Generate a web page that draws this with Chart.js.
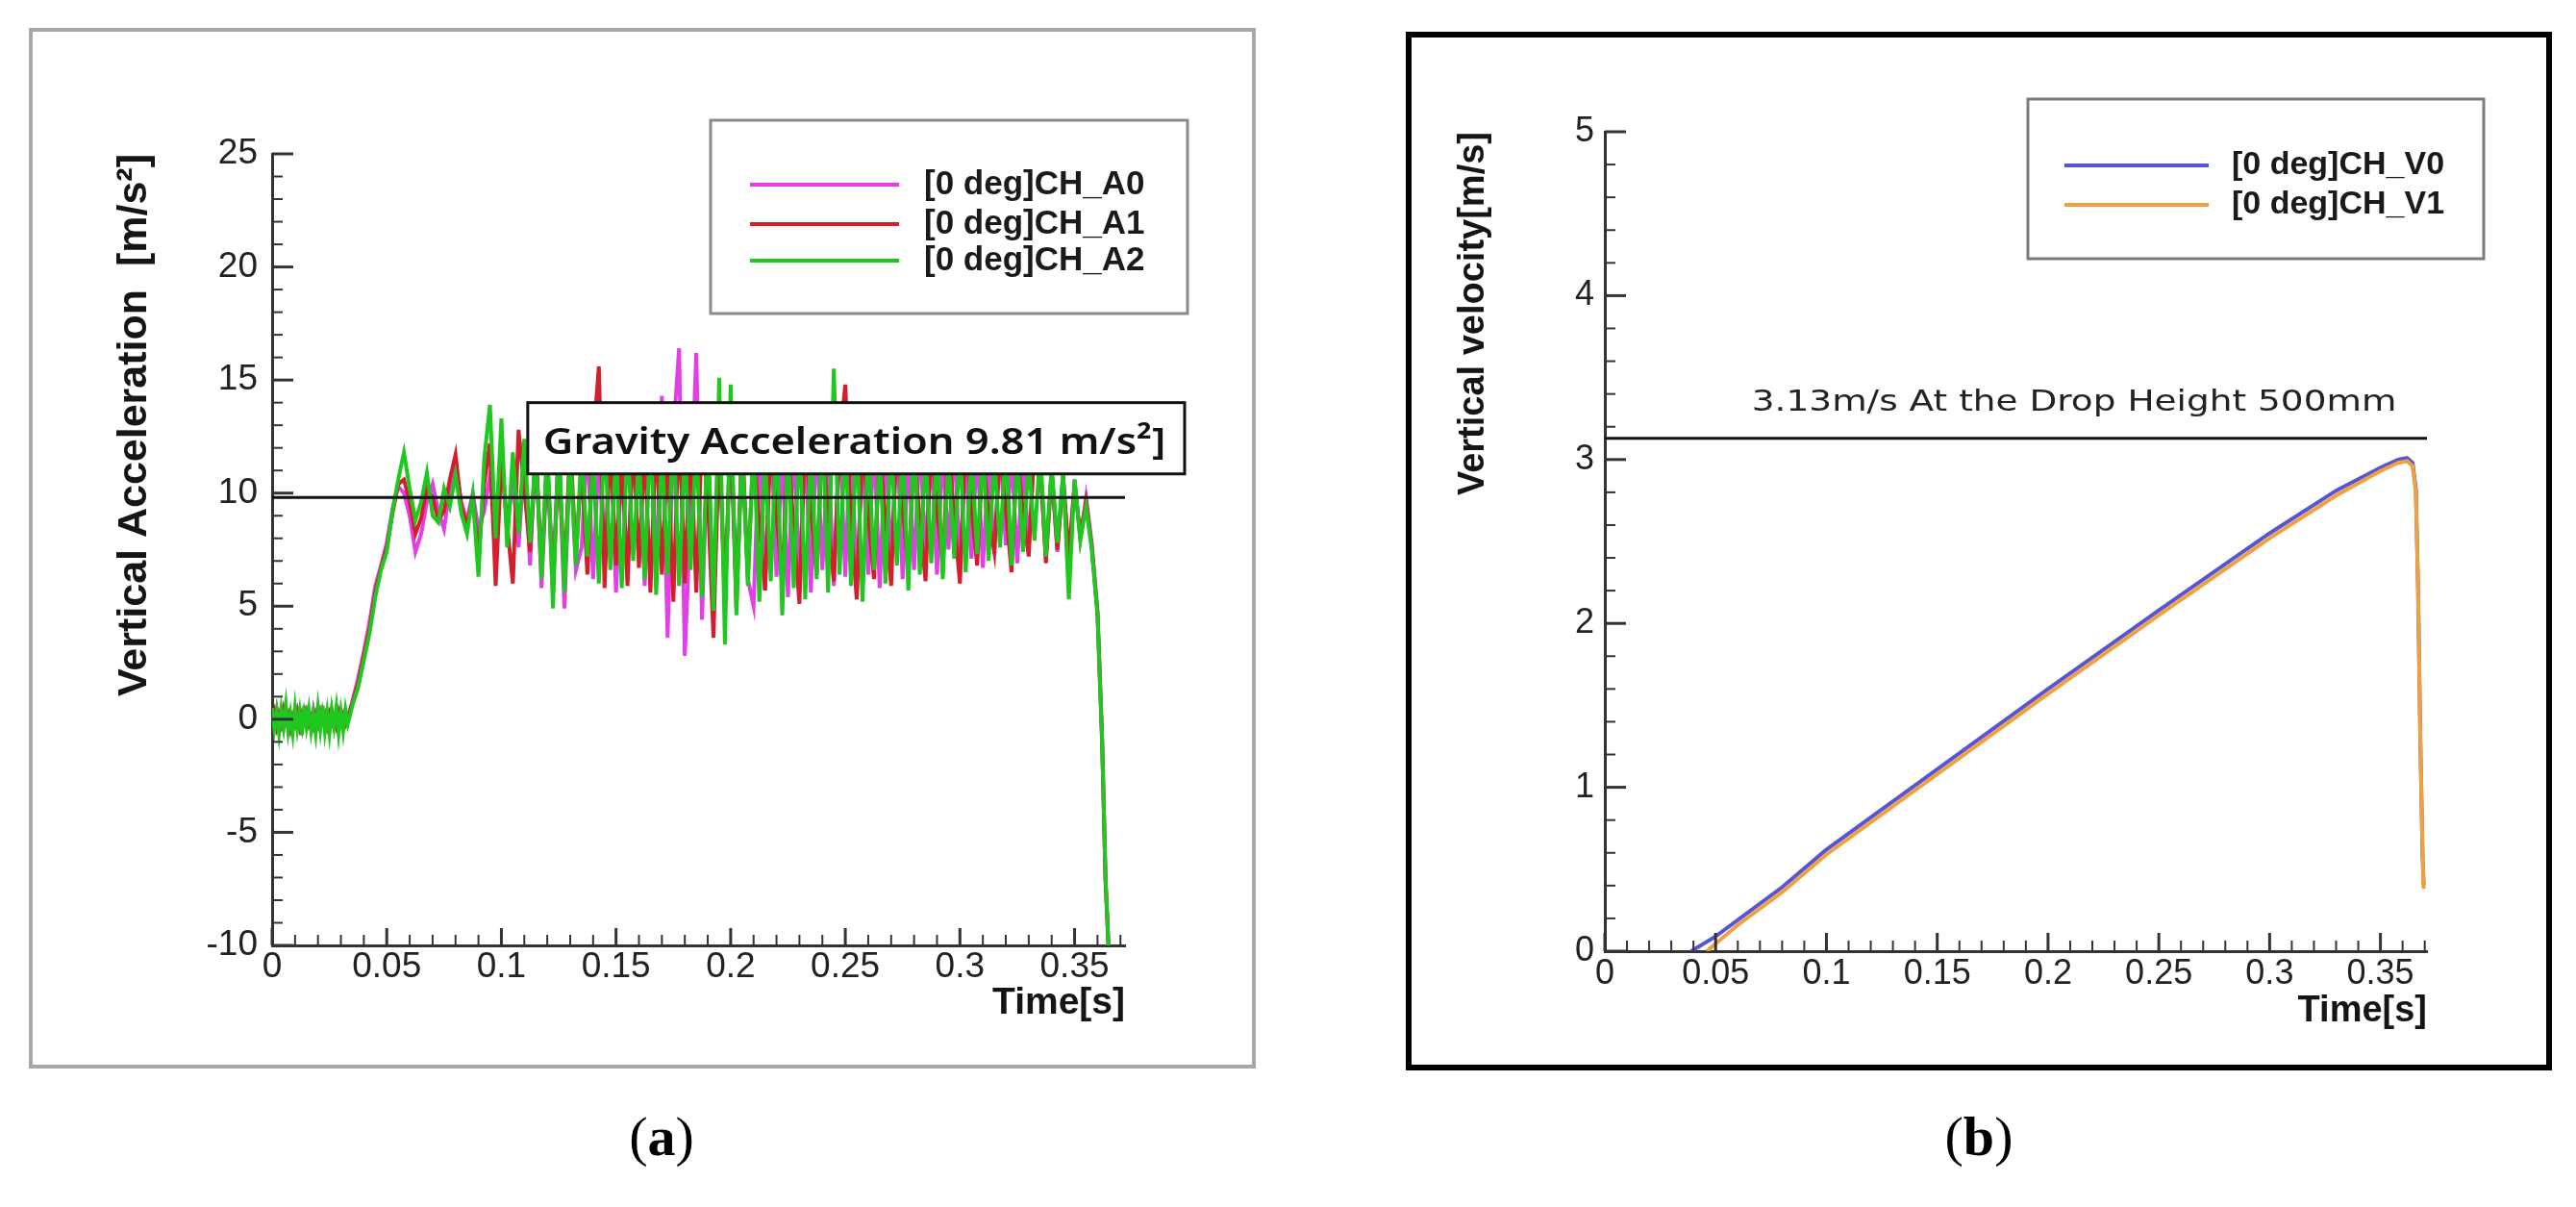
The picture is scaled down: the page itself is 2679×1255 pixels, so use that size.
<!DOCTYPE html>
<html><head><meta charset="utf-8">
<script src="https://cdn.jsdelivr.net/npm/chart.js@4/dist/chart.umd.min.js"></script>
<style>
html,body{margin:0;padding:0;background:#fff;}
body{width:2679px;height:1255px;position:relative;overflow:hidden;}
#frameA{position:absolute;left:30px;top:29px;width:1276px;height:1082px;box-sizing:border-box;border:4px solid #a8a8a8;background:#fff;}
#frameB{position:absolute;left:1462px;top:33px;width:1192px;height:1080px;box-sizing:border-box;border:6px solid #000;background:#fff;}
#cA{position:absolute;left:0;top:0;}
#cB{position:absolute;left:1440px;top:0;}
.cap{position:absolute;top:1153px;width:200px;text-align:center;font-family:"Liberation Serif","DejaVu Serif",serif;font-size:58px;line-height:58px;color:#000;}
</style></head>
<body>
<div id="frameA"></div>
<div id="frameB"></div>
<canvas id="cA" width="1400" height="1130"></canvas>
<canvas id="cB" width="1239" height="1130"></canvas>
<div class="cap" style="left:588px">(<b>a</b>)</div>
<div class="cap" style="left:1958px">(<b>b</b>)</div>
<script>
// ---------- Panel (a): vertical acceleration ----------
const timeA = [
 0,0.001,0.002,0.003,0.004,0.005,0.006,0.007,0.008,0.009,0.010,0.011,0.012,0.013,0.014,0.015,0.016,0.017,0.018,0.019,0.020,0.021,0.022,0.023,0.024,0.025,0.026,0.027,0.028,0.029,0.030,0.031,0.032,0.033,
 0.035,0.0375,0.040,0.0425,0.045,0.0475,0.050,0.0525,0.055,0.0575,
 0.060,0.0625,0.065,0.0675,0.070,0.0725,0.075,0.0775,0.080,0.0825,
 0.085,0.0875,0.090,0.0925,0.095,0.0975,0.100,0.1025,0.105,0.1075,
 0.110,0.1125,0.115,0.1175,0.120,0.1225,0.125,0.1275,0.130,0.1325,
 0.135,0.1375,0.140,0.1425,0.145,0.1475,0.150,0.1525,0.155,0.1575,
 0.160,0.1625,0.165,0.1675,0.170,0.1725,0.175,0.1775,0.180,0.1825,
 0.185,0.1875,0.190,0.1925,0.195,0.1975,0.200,0.2025,0.205,0.2075,
 0.210,0.2125,0.215,0.2175,0.220,0.2225,0.225,0.2275,0.230,0.2325,
 0.235,0.2375,0.240,0.2425,0.245,0.2475,0.250,0.2525,0.255,0.2575,
 0.260,0.2625,0.265,0.2675,0.270,0.2725,0.275,0.2775,0.280,0.2825,
 0.285,0.2875,0.290,0.2925,0.295,0.2975,0.300,0.3025,0.305,0.3075,
 0.310,0.3125,0.315,0.3175,0.320,0.3225,0.325,0.3275,0.330,0.3325,
 0.335,0.3375,0.340,0.3425,0.345,0.3475,0.350,0.3525,0.355,
 0.3575,0.360,0.362,0.3635,0.365
];
const chA0 = [
 0.2,-0.3,0.4,-0.2,0.1,-0.4,0.3,-0.1,0.2,-0.3, 0.4,-0.2,0.1,-0.4,0.3,-0.2,0.2,-0.3,0.4,-0.1, 0.2,-0.4,0.3,-0.2,0.1,-0.3,0.4,-0.2,0.2,-0.3, 0.3,-0.2,0.1,0.0,
 0.8,1.8,3.0,4.3,5.9,6.8,7.8,9.3,10.3,10.0,
 9.0,7.4,8.2,9.6,10.4,9.2,8.4,10.2,11.2,9.6,
 8.8,10.0,8.4,9.2,10.8,7.8,12.0,8.4,10.6,7.6,
 11.6,6.8,12.2,5.8,11.4,6.4,12.0,4.9,11.8,6.6,
 7.6,12.4,6.2,11.8,6.9,12.6,5.6,11.4,6.4,12.3,
 12.9,5.9,13.4,6.3,14.3,3.6,12.6,16.4,2.8,9.0,
 16.2,4.4,12.4,5.2,12.8,4.9,13.1,5.6,12.2,6.2,
 5.0,12.4,5.7,12.9,6.3,11.8,5.4,12.6,6.0,12.3,
 5.6,12.7,6.6,12.0,5.9,12.9,6.3,13.2,5.5,12.1,
 6.4,12.5,5.8,12.2,6.9,12.8,6.2,11.7,6.6,12.4,
 7.2,12.1,6.4,11.9,7.5,12.3,6.8,11.6,7.1,12.0,
 6.7,11.5,7.3,12.1,7.7,11.8,6.9,11.4,7.6,11.9,
 11.2,7.1,10.9,7.4,10.8,6.9,10.6,8.0,9.8,
 7.8,4.8,-0.8,-7.2,-10.5
];
const chA1 = [
 -0.1,0.3,-0.3,0.2,-0.2,0.4,-0.1,0.2,-0.4,0.1, -0.2,0.3,-0.3,0.2,-0.1,0.3,-0.2,0.1,-0.3,0.2, -0.2,0.3,-0.1,0.2,-0.3,0.2,-0.2,0.1,-0.3,0.3, -0.1,0.2,-0.2,0.1,
 0.7,1.6,2.8,4.0,5.6,6.7,7.6,9.1,10.4,10.6,
 9.6,8.2,8.9,10.2,9.8,8.8,9.2,10.6,11.7,9.4,
 8.6,9.8,7.2,10.4,12.2,5.9,11.4,8.6,6.0,12.8,
 10.2,7.4,12.0,6.6,11.6,5.6,11.9,6.0,12.4,7.2,
 11.3,6.4,12.2,15.6,5.8,12.4,6.8,11.8,5.9,12.6,
 6.7,12.2,5.6,12.8,6.4,11.9,5.2,13.2,6.0,12.5,
 5.6,12.6,9.8,3.6,12.4,5.4,12.9,4.9,12.3,6.3,
 12.1,8.6,5.7,12.6,9.1,6.0,12.2,8.4,5.1,12.8,
 9.2,6.4,12.5,8.8,6.1,12.3,14.8,8.7,5.3,12.4,
 9.0,6.2,12.0,8.9,5.9,12.7,9.3,6.6,11.8,8.8,
 6.1,12.4,9.2,6.9,12.2,8.9,6.0,12.6,9.4,6.8,
 11.7,9.0,7.4,12.0,9.3,6.5,11.8,9.1,7.2,12.3,
 11.4,6.9,11.0,7.5,10.7,7.2,10.4,8.1,9.6,
 7.6,4.7,-0.9,-7.1,-10.5
];
const chA2 = [
 0.5,-0.4,0.3,-0.6,0.4,-0.3,0.6,-0.5,0.2,-0.6, 0.5,-0.4,0.3,-0.7,0.6,-0.3,0.4,-0.5,0.2,-0.6, 0.5,-0.4,0.6,-0.5,0.3,-0.6,0.4,-0.3,0.5,-0.6, 0.3,-0.5,0.4,-0.2,
 0.6,1.4,2.6,3.8,5.4,6.6,7.4,9.2,10.6,11.8,
 10.2,8.8,9.6,10.9,9.0,8.7,10.2,9.4,10.8,9.1,
 8.2,9.9,6.3,11.5,13.9,8.0,13.3,7.6,11.8,8.2,
 12.4,7.8,11.9,6.2,12.3,4.9,12.6,5.6,11.8,6.8,
 12.1,7.2,11.5,6.0,12.8,6.6,11.9,5.8,12.4,7.0,
 11.7,6.2,12.9,5.5,12.1,6.4,13.2,5.9,12.0,6.6,
 12.5,5.4,13.0,4.8,15.1,3.3,14.8,4.6,12.2,5.9,
 12.6,5.2,11.8,6.1,12.9,4.6,12.3,5.8,12.7,5.3,
 12.1,6.2,13.1,5.6,15.5,6.4,12.4,5.9,12.8,5.2,
 12.2,6.6,11.9,6.0,12.5,6.8,12.0,5.7,12.6,6.4,
 11.8,6.9,12.3,6.2,11.7,7.1,12.1,6.5,11.9,7.3,
 12.0,7.0,11.6,7.6,12.2,6.8,11.8,7.4,11.5,7.9,
 11.9,7.2,11.2,7.8,10.9,5.3,10.6,7.9,9.4,
 7.5,4.6,-1.0,-7.0,-10.5
];
const gravityT = [0, 0.372];
const gravityA = 9.81;
const xTicksA = [0, 0.05, 0.1, 0.15, 0.2, 0.25, 0.3, 0.35];
const yTicksA = [-10, -5, 0, 5, 10, 15, 20, 25];
const labelsA = ['[0 deg]CH_A0', '[0 deg]CH_A1', '[0 deg]CH_A2'];

// ---------- Panel (b): vertical velocity ----------
const timeV0 = [0.039,0.050,0.080,0.100,0.150,0.200,0.250,0.300,0.330,0.350,0.358,0.362,0.3645,0.3660,0.3670,0.3680,0.3690,0.3695];
const chV0   = [0.00,0.09,0.39,0.62,1.11,1.60,2.08,2.55,2.81,2.95,3.00,3.01,2.98,2.82,2.20,1.30,0.60,0.40];
const timeV1 = [0.046,0.060,0.080,0.100,0.150,0.200,0.250,0.300,0.330,0.350,0.358,0.362,0.3645,0.3660,0.3670,0.3680,0.3690,0.3695];
const chV1   = [0.00,0.16,0.36,0.59,1.08,1.57,2.05,2.52,2.78,2.93,2.98,2.99,2.96,2.80,2.20,1.30,0.60,0.38];
const dropT = [0, 0.371];
const dropV = 3.13;
const xTicksB = [0, 0.05, 0.1, 0.15, 0.2, 0.25, 0.3, 0.35];
const yTicksB = [0, 1, 2, 3, 4, 5];
const labelsB = ['[0 deg]CH_V0', '[0 deg]CH_V1'];

function pts(ts, vs){ return ts.map((t,i)=>({x:t, y:vs[i]})); }

// inside tick marks (major + minor)
const tickMarks = {
  id:'tickMarks',
  afterDatasetsDraw(chart, args, o){
    if(!o || !o.display) return;
    const {ctx, chartArea:a, scales:{x,y}} = chart;
    ctx.save();
    ctx.strokeStyle = o.color;
    let n = Math.round((x.max - x.min)/o.xMinor + 1e-6);
    for(let i=0;i<=n;i++){
      const v = x.min + i*o.xMinor;
      const major = (i % o.per) === 0;
      const px = x.getPixelForValue(v);
      ctx.lineWidth = major ? 3 : 2;
      ctx.beginPath(); ctx.moveTo(px, a.bottom); ctx.lineTo(px, a.bottom - (major ? o.xMajLen : o.minLen)); ctx.stroke();
    }
    n = Math.round((y.max - y.min)/o.yMinor + 1e-6);
    for(let i=0;i<=n;i++){
      const v = y.min + i*o.yMinor;
      const major = (i % o.per) === 0;
      const py = y.getPixelForValue(v);
      ctx.lineWidth = major ? 3 : 2;
      ctx.beginPath(); ctx.moveTo(a.left, py); ctx.lineTo(a.left + (major ? o.yMajLen : o.minLen), py); ctx.stroke();
    }
    ctx.restore();
  }
};

// annotation box / text
const noteBox = {
  id:'noteBox',
  afterDatasetsDraw(chart, args, o){
    if(!o || !o.display) return;
    const {ctx, scales:{x,y}} = chart;
    ctx.save();
    if(o.box){
      const x0=x.getPixelForValue(o.box.t0), x1=x.getPixelForValue(o.box.t1);
      const y0=y.getPixelForValue(o.box.v1), y1=y.getPixelForValue(o.box.v0);
      ctx.fillStyle='#fff'; ctx.fillRect(x0,y0,x1-x0,y1-y0);
      ctx.lineWidth=o.box.lineWidth; ctx.strokeStyle=o.box.color; ctx.strokeRect(x0,y0,x1-x0,y1-y0);
    }
    ctx.font=o.font; ctx.fillStyle=o.color; ctx.textBaseline='alphabetic'; ctx.textAlign='left';
    const tx0=x.getPixelForValue(o.text.t0), tx1=x.getPixelForValue(o.text.t1);
    const ty=y.getPixelForValue(o.text.v);
    const w=ctx.measureText(o.label).width;
    ctx.translate(tx0, ty); ctx.scale((tx1-tx0)/w, 1); ctx.fillText(o.label, 0, 0);
    ctx.restore();
  }
};

// boxed legend
const boxLegend = {
  id:'boxLegend',
  afterDraw(chart, args, o){
    if(!o || !o.display) return;
    const {ctx, chartArea:a} = chart;
    const L=a.left+o.dx, T=a.top+o.dy;
    ctx.save();
    ctx.fillStyle='#fff'; ctx.fillRect(L,T,o.w,o.h);
    ctx.lineWidth=o.borderWidth; ctx.strokeStyle=o.borderColor; ctx.strokeRect(L,T,o.w,o.h);
    ctx.font=o.font; ctx.textBaseline='middle'; ctx.textAlign='left';
    o.items.forEach((di,i)=>{
      const ds=chart.data.datasets[di];
      const yy=T+o.rowY[i];
      ctx.strokeStyle=ds.borderColor; ctx.lineWidth=o.lineWidth;
      ctx.beginPath(); ctx.moveTo(L+o.lineX0,yy); ctx.lineTo(L+o.lineX1,yy); ctx.stroke();
      ctx.fillStyle=o.textColor;
      ctx.fillText(ds.label, L+o.textX, yy);
    });
    ctx.restore();
  }
};

const AX = '#333333';
function axisCommon(ticksArr, fontSize, pad, afterFitFn){
  return {
    type:'linear',
    afterBuildTicks: s => { s.ticks = ticksArr.map(v=>({value:v})); },
    afterFit: afterFitFn,
    grid:{display:false, drawTicks:false},
    border:{display:true, color:AX, width:3},
    ticks:{autoSkip:false, maxRotation:0, padding:pad, color:'#222',
      font:{family:'"Liberation Sans", Arial, sans-serif', size:fontSize},
      callback: v => String(+(+v).toFixed(3))}
  };
}

// ---- chart A ----
new Chart(document.getElementById('cA'), {
  type:'line',
  data:{datasets:[
    {label:null, data:pts(gravityT,[gravityA,gravityA]), borderColor:'#111', borderWidth:3, order:0},
    {label:labelsA[0], data:pts(timeA,chA0), borderColor:'#e040e6', borderWidth:4, order:3},
    {label:labelsA[1], data:pts(timeA,chA1), borderColor:'#d41e2e', borderWidth:4, order:2},
    {label:labelsA[2], data:pts(timeA,chA2), borderColor:'#1ec81e', borderWidth:4, order:1}
  ]},
  options:{
    responsive:false, animation:false, devicePixelRatio:1,
    layout:{padding:{left:114, top:160, right:230, bottom:63}},
    elements:{point:{radius:0}, line:{tension:0}},
    plugins:{
      legend:{display:false}, tooltip:{enabled:false},
      tickMarks:{display:true, color:AX, xMinor:0.01, yMinor:1, per:5, xMajLen:18, yMajLen:22, minLen:11},
      noteBox:{display:true, label:'Gravity Acceleration 9.81 m/s\u00B2]', font:'600 38px "Noto Sans", "Open Sans", sans-serif', color:'#111',
        box:{t0:0.1115, t1:0.398, v0:10.85, v1:14.0, lineWidth:3, color:'#111'},
        text:{t0:0.1182, t1:0.3898, v:11.74}},
      boxLegend:{display:true, dx:456, dy:-35, w:496, h:201, borderWidth:3, borderColor:'#8c8c8c',
        rowY:[67,108,146], lineX0:41, lineX1:196, textX:222, lineWidth:4,
        font:'bold 35px "Liberation Sans", Arial, sans-serif', textColor:'#1a1a1a', items:[1,2,3]}
    },
    scales:{
      x:Object.assign(axisCommon(xTicksA, 37, 1, s=>{s.height=84;}), {min:0, max:0.372,
        title:{display:true, text:'Time[s]', align:'end', padding:0, color:'#151515',
          font:{family:'"Liberation Sans", Arial, sans-serif', size:39, weight:'bold'}}}),
      y:Object.assign(axisCommon(yTicksA, 37, 15, s=>{s.width=169;}), {min:-10, max:25,
        title:{display:true, text:'Vertical Acceleration  [m/s\u00B2]', align:'end', padding:0, color:'#151515',
          font:{family:'"Liberation Sans", Arial, sans-serif', size:43, weight:'bold'}}})
    }
  },
  plugins:[tickMarks, noteBox, boxLegend]
});

// ---- chart B ----
new Chart(document.getElementById('cB'), {
  type:'line',
  data:{datasets:[
    {label:null, data:pts(dropT,[dropV,dropV]), borderColor:'#111', borderWidth:3, order:0},
    {label:labelsB[0], data:pts(timeV0,chV0), borderColor:'#5555d6', borderWidth:4, order:2},
    {label:labelsB[1], data:pts(timeV1,chV1), borderColor:'#f0a03c', borderWidth:4, order:1}
  ]},
  options:{
    responsive:false, animation:false, devicePixelRatio:1,
    layout:{padding:{left:70, top:137, right:155, bottom:56}},
    elements:{point:{radius:0}, line:{tension:0}},
    plugins:{
      legend:{display:false}, tooltip:{enabled:false},
      tickMarks:{display:true, color:AX, xMinor:0.01, yMinor:0.2, per:5, xMajLen:19, yMajLen:22, minLen:11},
      noteBox:{display:true, label:'3.13m/s At the Drop Height 500mm', font:'31px "DejaVu Sans", sans-serif', color:'#222',
        text:{t0:0.0663, t1:0.3573, v:3.30}},
      boxLegend:{display:true, dx:440, dy:-34, w:474, h:166, borderWidth:3, borderColor:'#7a7a7a',
        rowY:[69,110], lineX0:38, lineX1:188, textX:212, lineWidth:4,
        font:'bold 34px "Liberation Sans", Arial, sans-serif', textColor:'#1a1a1a', items:[1,2]}
    },
    scales:{
      x:Object.assign(axisCommon(xTicksB, 36, 2, s=>{s.height=85;}), {min:0, max:0.371,
        title:{display:true, text:'Time[s]', align:'end', padding:0, color:'#151515',
          font:{family:'"Liberation Sans", Arial, sans-serif', size:38, weight:'bold'}}}),
      y:Object.assign(axisCommon(yTicksB, 36, 11, s=>{s.width=159;}), {min:0, max:5,
        title:{display:true, text:'Vertical velocity[m/s]', align:'end', padding:0, color:'#151515',
          font:{family:'"Liberation Sans", Arial, sans-serif', size:38, weight:'bold'}}})
    }
  },
  plugins:[tickMarks, noteBox, boxLegend]
});
</script>
</body></html>
